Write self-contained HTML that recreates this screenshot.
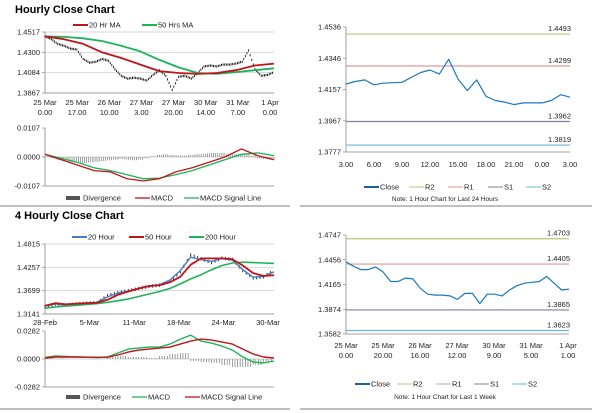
<!DOCTYPE html>
<html><head><meta charset="utf-8"><style>
html,body{margin:0;padding:0;background:#fff}
svg{display:block;font-family:"Liberation Sans",Arial,sans-serif}
</style></head><body>
<svg id="s" width="600" height="413" viewBox="0 0 600 413" xmlns="http://www.w3.org/2000/svg">
<text x="15" y="13" font-size="11" font-weight="bold">Hourly Close Chart</text>
<text x="15" y="219" font-size="11" font-weight="bold">4 Hourly Close Chart</text>
<line x1="0" y1="206" x2="290" y2="206" stroke="#999" stroke-width="1.2"/>
<line x1="300" y1="206" x2="592" y2="206" stroke="#999" stroke-width="1.2"/>
<line x1="0" y1="409" x2="290" y2="409" stroke="#999" stroke-width="1.2"/>
<line x1="300" y1="409" x2="592" y2="409" stroke="#999" stroke-width="1.2"/>
</svg>
<script>
// ---------- Hourly (top-left) ----------
const h1Close=[1.4470,1.4440,1.4390,1.4370,1.4340,1.4330,1.4230,1.4190,1.4200,1.4230,1.4210,1.4120,1.4050,1.4020,1.4030,1.4020,1.4000,1.4060,1.4110,1.4050,1.3900,1.4040,1.4050,1.4020,1.4080,1.4150,1.4160,1.4150,1.4170,1.4170,1.4180,1.4200,1.4320,1.4120,1.4050,1.4060,1.4090];
const h1MA20=[1.4470,1.4440,1.4390,1.4300,1.4240,1.4170,1.4100,1.4080,1.4070,1.4080,1.4110,1.4160,1.4180];
const h1MA50=[1.4470,1.4465,1.4450,1.4420,1.4370,1.4310,1.4220,1.4140,1.4080,1.4070,1.4090,1.4110,1.4130];
const h1Ticks=["1.4517","1.4300","1.4084","1.3867"];
const h1XLabels=[["25 Mar","0.00"],["25 Mar","17.00"],["26 Mar","10.00"],["27 Mar","3.00"],["27 Mar","20.00"],["30 Mar","14.00"],["31 Mar","7.00"],["1 Apr","0.00"]];
const h1Macd=[0.0010,-0.0010,-0.0030,-0.0050,-0.0055,-0.0080,-0.0088,-0.0080,-0.0055,-0.0040,-0.0020,0.0000,0.0030,0.0005,-0.0010];
const h1Signal=[0.0010,-0.0005,-0.0020,-0.0040,-0.0050,-0.0065,-0.0080,-0.0078,-0.0065,-0.0050,-0.0030,-0.0010,0.0010,0.0015,0.0005];
const h1Div=[0.0003,-0.0005,-0.0010,-0.0015,-0.0020,-0.0020,-0.0022,-0.0020,-0.0018,-0.0015,-0.0012,-0.0010,-0.0008,-0.0010,-0.0012,-0.0010,-0.0005,0.0003,0.0008,0.0010,0.0008,0.0006,0.0005,0.0008,0.0010,0.0012,0.0014,0.0015,0.0015,0.0012,0.0010,0.0010,0.0012,0.0005,-0.0005,-0.0008,-0.0010];
const h1MTicks=["0.0107","0.0000","-0.0107"];
// ---------- 24h pivot chart (top-right) ----------
const d1Close=[1.4190,1.4205,1.4215,1.4185,1.4195,1.4198,1.4200,1.4230,1.4260,1.4275,1.4250,1.4340,1.4220,1.4150,1.4215,1.4115,1.4090,1.4080,1.4065,1.4075,1.4075,1.4075,1.4090,1.4125,1.4110];
const d1Levels=[1.4493,1.4299,1.3962,1.3819];
const d1Ticks=["1.4536","1.4346","1.4157","1.3967","1.3777"];
const d1XLabels=["3.00","6.00","9.00","12.00","15.00","18.00","21.00","0.00","3.00"];
// ---------- 4 hourly (bottom-left) ----------
const h4Close=[1.332,1.338,1.336,1.338,1.340,1.341,1.358,1.365,1.370,1.375,1.380,1.383,1.393,1.415,1.455,1.446,1.437,1.448,1.445,1.418,1.400,1.403,1.418];
const h4MA20=[1.333,1.338,1.336,1.338,1.340,1.342,1.355,1.364,1.369,1.375,1.380,1.384,1.395,1.418,1.450,1.444,1.440,1.447,1.443,1.420,1.402,1.404,1.415];
const h4MA50=[1.334,1.340,1.337,1.339,1.340,1.341,1.348,1.360,1.368,1.375,1.381,1.383,1.390,1.403,1.432,1.447,1.447,1.447,1.445,1.430,1.412,1.405,1.407];
const h4MA200=[1.328,1.331,1.333,1.335,1.337,1.339,1.342,1.346,1.350,1.356,1.362,1.368,1.375,1.386,1.398,1.408,1.420,1.430,1.436,1.438,1.437,1.436,1.435];
const h4Ticks=["1.4815","1.4257","1.3699","1.3141"];
const h4XLabels=["28-Feb","5-Mar","11-Mar","18-Mar","24-Mar","30-Mar"];
const h4Macd=[0.0015,0.0030,0.0025,0.0020,0.0018,0.0015,0.0020,0.0060,0.0100,0.0110,0.0120,0.0120,0.0150,0.0200,0.0240,0.0180,0.0160,0.0130,0.0090,0.0020,-0.0030,-0.0040,-0.0020];
const h4Signal=[0.0010,0.0020,0.0020,0.0020,0.0018,0.0017,0.0018,0.0040,0.0070,0.0090,0.0100,0.0110,0.0120,0.0150,0.0180,0.0200,0.0190,0.0170,0.0150,0.0100,0.0050,0.0020,0.0010];
const h4Div=[0.0005,0.0010,0.0005,0.0000,0.0000,-0.0002,0.0002,0.0020,0.0030,0.0020,0.0020,0.0010,0.0030,0.0050,0.0060,-0.0020,-0.0030,-0.0040,-0.0060,-0.0080,-0.0080,-0.0060,-0.0030];
const h4MTicks=["0.0282","0.0000","-0.0282"];
// ---------- 1 week pivot chart (bottom-right) ----------
const w1Close=[1.443,1.438,1.434,1.434,1.437,1.431,1.420,1.420,1.424,1.423,1.412,1.405,1.404,1.404,1.403,1.399,1.406,1.406,1.394,1.405,1.405,1.403,1.410,1.415,1.418,1.419,1.420,1.426,1.418,1.410,1.411];
const w1Levels=[1.4703,1.4405,1.3865,1.3623];
const w1Ticks=["1.4747","1.4456","1.4165","1.3874","1.3582"];
const w1XLabels=[["25 Mar","0.00"],["25 Mar","20.00"],["26 Mar","16.00"],["27 Mar","12.00"],["30 Mar","9.00"],["31 Mar","5.00"],["1 Apr","1.00"]];

const NS="http://www.w3.org/2000/svg";
const svg=document.getElementById('s');
function mk(tag,attrs,parent){const e=document.createElementNS(NS,tag);for(const k in attrs)e.setAttribute(k,attrs[k]);(parent||svg).appendChild(e);return e;}
function txt(x,y,s,anchor,size,name){const t=mk('text',{x:x,y:y,'font-size':size||7.5,'text-anchor':anchor||'start',fill:'#222'});t.textContent=s;


return t;}
function scale(d0,d1,r0,r1){return v=>r0+(v-d0)/(d1-d0)*(r1-r0);}
function poly(pts,color,w,name){const p=mk('polyline',{points:pts.map(q=>q[0].toFixed(1)+','+q[1].toFixed(1)).join(' '),fill:'none',stroke:color,'stroke-width':w,'stroke-linejoin':'round'});


return p;}
function yAxis(x,yTop,yBot,ticks,name,grid,x2){
 const n=ticks.length;
 ticks.forEach((t,i)=>{const y=yTop+(yBot-yTop)*i/(n-1);
  if(grid){const g=mk('line',{x1:x,y1:y,x2:x2,y2:y,stroke:'#c8c8c8','stroke-width':0.7});
   
   }
  const tk=mk('line',{x1:x-3,y1:y,x2:x,y2:y,stroke:'#888','stroke-width':0.7});
  
  
  txt(x-5,y+2.5,t,'end',7.5,name+'-tick-label');});
 const a=mk('line',{x1:x,y1:yTop,x2:x,y2:yBot,stroke:'#888','stroke-width':0.8});
 
 
}
function legendLine(x,y,color,label,name,w){const l=mk('line',{x1:x,y1:y,x2:x+15,y2:y,stroke:color,'stroke-width':w||2});
 
 
 txt(x+16,y+2.5,label,'start',7.5,name);}
function legendBox(x,y,label,name){const r=mk('rect',{x:x,y:y-2,width:14,height:4,fill:'#555'});
 
 
 txt(x+17,y+2.5,label,'start',7.5,name);}

// ===== Hourly price =====
(function(){
 const X0=45,X1=274,yS=scale(1.4517,1.3867,32,93);
 yAxis(X0,32,93,h1Ticks,'hourly-price-y',true,X1);
 const n=h1Close.length,xs=i=>X0+(X1-X0)*i/(n-1);
 const xa=mk('line',{x1:X0,y1:93,x2:X1,y2:93,stroke:'#888','stroke-width':0.8});
 
 
 h1XLabels.forEach((l,i)=>{const x=X0+(270-X0)*i/(h1XLabels.length-1);txt(x,105,l[0],'middle',7.5,'hourly-x-label');txt(x,115,l[1],'middle',7.5,'hourly-x-label');});
 for(let i=1;i<n;i++){for(let k=0;k<4;k++){const f=k/4,x=xs(i-1)+(xs(i)-xs(i-1))*f;const v=h1Close[i-1]+(h1Close[i]-h1Close[i-1])*f;
  const b=mk('line',{x1:x,y1:yS(v+0.0012),x2:x,y2:yS(v-0.0012),stroke:'#111','stroke-width':0.9});
  
  }}
 poly(h1MA50.map((v,i)=>[xs(i*3),yS(v)]),'#1db35a',1.8,'ma50-line');
 poly(h1MA20.map((v,i)=>[xs(i*3),yS(v)]),'#c0141b',1.8,'ma20-line');
 legendLine(73,25,'#c0141b','20 Hr MA','legend-20hr-ma');
 legendLine(142,25,'#1db35a','50 Hrs MA','legend-50hrs-ma');
 const mS=scale(0.0107,-0.0107,128,186);
 yAxis(X0,128,186,h1MTicks,'hourly-macd-y',false);
 const z=mk('line',{x1:X0,y1:157,x2:X1,y2:157,stroke:'#aaa','stroke-width':0.6});
 
 
 const bx=mk('line',{x1:X0,y1:186,x2:X1,y2:186,stroke:'#888','stroke-width':0.8});
 
 
 const nd=h1Div.length;
 h1Div.forEach((v,i)=>{for(let k=0;k<3;k++){const x=X0+(X1-X0)*(i*3+k)/(nd*3-1);
  const b=mk('line',{x1:x,y1:mS(0),x2:x,y2:mS(v),stroke:'#777','stroke-width':0.7});
  
  }});
 const nm=h1Macd.length,xm=i=>X0+(X1-X0)*i/(nm-1);
 poly(h1Signal.map((v,i)=>[xm(i),mS(v)]),'#1db35a',1.3,'hourly-macd-signal-line');
 poly(h1Macd.map((v,i)=>[xm(i),mS(v)]),'#c0141b',1.3,'hourly-macd-line');
 legendBox(66,198,'Divergence','legend-divergence');
 legendLine(135,198,'#c0141b','MACD','legend-macd',1.3);
 legendLine(184,198,'#1db35a','MACD Signal Line','legend-macd-signal',1.3);
})();

// ===== Pivot charts =====
function pivot(X0,X1,yT,yB,vT,vB,closeArr,levels,ticks,prefix){
 const yS=scale(vT,vB,yT,yB);
 yAxis(X0,yT,yB,ticks,prefix+'-y',false);
 const xa=mk('line',{x1:X0,y1:yB,x2:X1,y2:yB,stroke:'#888','stroke-width':0.8});
 
 
 const cols=['#b8c47a','#d99a9a','#8a7aa0','#6ab8d8'];
 const nm=['r2','r1','s1','s2'];
 levels.forEach((v,i)=>{const y=yS(v);
  const l=mk('line',{x1:X0,y1:y,x2:X1,y2:y,stroke:cols[i],'stroke-width':1.2});
  
  
  txt(X1+1,y-3,v.toFixed(4),'end',7.5,prefix+'-'+nm[i]+'-value');});
 const n=closeArr.length,xs=i=>X0+(X1-X0)*i/(n-1);
 poly(closeArr.map((v,i)=>[xs(i),yS(v)]),'#1a78c2',1.2,prefix+'-close-line');
}
pivot(346,570,27,152,1.4536,1.3777,d1Close,d1Levels,d1Ticks,'day');
d1XLabels.forEach((l,i)=>txt(346+(570-346)*i/(d1XLabels.length-1),167,l,'middle',7.5,'day-x-label'));
legendLine(364,187,'#1a5fa8','Close','day-legend-close');
legendLine(409,187,'#b8c47a','R2','day-legend-r2',1);
legendLine(448,187,'#d99a9a','R1','day-legend-r1',1);
legendLine(488,187,'#8a7aa0','S1','day-legend-s1',1);
legendLine(526,187,'#6ab8d8','S2','day-legend-s2',1);
txt(445,201,'Note: 1 Hour Chart for Last 24 Hours','middle',6.5,'day-note');

pivot(346,569,235,334,1.4747,1.3582,w1Close,w1Levels,w1Ticks,'week');
w1XLabels.forEach((l,i)=>{const x=346+(568-346)*i/(w1XLabels.length-1);txt(x,348,l[0],'middle',7.5,'week-x-label');txt(x,358,l[1],'middle',7.5,'week-x-label');});
legendLine(355,384,'#1a5fa8','Close','week-legend-close');
legendLine(397,384,'#b8c47a','R2','week-legend-r2',1);
legendLine(436,384,'#d99a9a','R1','week-legend-r1',1);
legendLine(474,384,'#8a7aa0','S1','week-legend-s1',1);
legendLine(512,384,'#6ab8d8','S2','week-legend-s2',1);
txt(445,399,'Note: 1 Hour Chart for  Last 1 Week','middle',6.5,'week-note');

// ===== 4 hourly =====
(function(){
 const X0=45,X1=274,yS=scale(1.4815,1.3141,244,314);
 yAxis(X0,244,314,h4Ticks,'h4-price-y',true,X1);
 const xa=mk('line',{x1:X0,y1:314,x2:X1,y2:314,stroke:'#888','stroke-width':0.8});
 
 
 h4XLabels.forEach((l,i)=>txt(X0+(268-X0)*i/(h4XLabels.length-1),325,l,'middle',7.5,'h4-x-label'));
 const n=h4Close.length,xs=i=>X0+(X1-X0)*i/(n-1);
 for(let i=1;i<n;i++){for(let k=0;k<3;k++){const f=k/3,x=xs(i-1)+(xs(i)-xs(i-1))*f;const v=h4Close[i-1]+(h4Close[i]-h4Close[i-1])*f;
  const b=mk('line',{x1:x,y1:yS(v+0.004),x2:x,y2:yS(v-0.004),stroke:'#222','stroke-width':0.9});
  
  }}
 poly(h4MA200.map((v,i)=>[xs(i),yS(v)]),'#1db35a',1.6,'h4-ma200-line');
 poly(h4MA20.map((v,i)=>[xs(i),yS(v)]),'#4a7cc8',1.4,'h4-ma20-line');
 poly(h4MA50.map((v,i)=>[xs(i),yS(v)]),'#c0141b',1.8,'h4-ma50-line');
 legendLine(72,237,'#4a7cc8','20 Hour','legend-20-hour');
 legendLine(129,237,'#c0141b','50 Hour','legend-50-hour');
 legendLine(189,237,'#1db35a','200 Hour','legend-200-hour');
 const mS=scale(0.0282,-0.0282,331,387);
 yAxis(X0,331,387,h4MTicks,'h4-macd-y',false);
 const z=mk('line',{x1:X0,y1:359,x2:X1,y2:359,stroke:'#aaa','stroke-width':0.6});
 
 
 const bx=mk('line',{x1:X0,y1:387,x2:X1,y2:387,stroke:'#888','stroke-width':0.8});
 
 
 h4Div.forEach((v,i)=>{if(i===0)return;for(let k=0;k<4;k++){const f=k/4,x=xs(i-1)+(xs(i)-xs(i-1))*f;
  const b=mk('line',{x1:x,y1:mS(0),x2:x,y2:mS(v),stroke:'#777','stroke-width':0.7});
  
  }});
 poly(h4Macd.map((v,i)=>[xs(i),mS(v)]),'#1db35a',1.4,'h4-macd-line');
 poly(h4Signal.map((v,i)=>[xs(i),mS(v)]),'#c0141b',1.4,'h4-macd-signal-line');
 legendBox(66,397,'Divergence','h4-legend-divergence');
 legendLine(132,397,'#1db35a','MACD','h4-legend-macd',1.3);
 legendLine(185,397,'#c0141b','MACD Signal Line','h4-legend-macd-signal',1.3);
})();
</script>
</body></html>
